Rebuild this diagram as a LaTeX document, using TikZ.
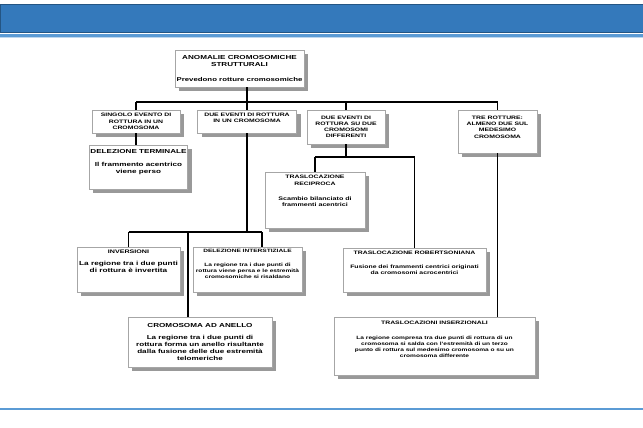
\documentclass[tikz,border=0pt]{standalone}
\usepackage{fontspec}
\setmainfont[FakeStretch=1.4]{Liberation Sans}
\usetikzlibrary{shadows}
\definecolor{fascia}{RGB}{52,121,187}
\definecolor{linea}{RGB}{91,155,213}
\tikzset{
  box/.style={draw=gray!70, fill=white, line width=0.5pt, align=center, inner sep=1pt,
    drop shadow={shadow xshift=4pt, shadow yshift=-4pt, fill=gray!80, opacity=1}},
  conn/.style={line width=1.3pt},
  liftup/.style={text depth=#1},
  fA/.style={font=\fontsize{5.8}{7}\selectfont\bfseries},
  fB/.style={font=\fontsize{4.9}{6.2}\selectfont\bfseries},
  fC/.style={font=\fontsize{4.7}{6}\selectfont\bfseries},
}
\begin{document}
\begin{tikzpicture}[x=1pt,y=-1pt]
    \useasboundingbox (0,0) rectangle (643,428);
    % fascia in alto
    \fill[fascia] (0,4) rectangle (643,32);
    \draw[fascia!70!black, line width=0.6pt] (0,4) rectangle (643,32);
    \fill[linea] (0,34.3) rectangle (643,36.7);
    \fill[linea!40] (0,36.7) rectangle (643,38);
    % linea in basso
    \fill[linea] (0,407.7) rectangle (643,410.3);

    % primo livello
    \node[box, fA, minimum width=129, minimum height=37] (top) at (239.5,68.5)
        {ANOMALIE CROMOSOMICHE\\STRUTTURALI\\[8pt]{\fontsize{5.6}{7}\selectfont Prevedono rotture cromosomiche}};

    % secondo livello
    \node[box, fB, minimum width=88, minimum height=23] (singolo) at (136,121.5)
        {SINGOLO EVENTO DI\\ROTTURA IN UN\\CROMOSOMA};
    \node[box, fB, minimum width=99, minimum height=23, liftup=7] (due1) at (247,121.5)
        {DUE EVENTI DI ROTTURA\\IN UN CROMOSOMA};
    \node[box, fB, minimum width=78, minimum height=34] (due2) at (346,127)
        {DUE EVENTI DI\\ROTTURA SU DUE\\CROMOSOMI\\DIFFERENTI};
    \node[box, fB, minimum width=79, minimum height=43, liftup=9] (tre) at (497.5,131.5)
        {TRE ROTTURE:\\ALMENO DUE SUL\\MEDESIMO\\CROMOSOMA};

    % terzo livello
    \node[box, fA, minimum width=97, minimum height=44, liftup=11] (termin) at (138.5,167)
        {DELEZIONE TERMINALE\\[6pt]Il frammento acentrico\\viene perso};
    \node[box, fB, minimum width=100, minimum height=56, liftup=18] (recip) at (315,200)
        {TRASLOCAZIONE\\RECIPROCA\\[9pt]{\fontsize{5.1}{6.2}\selectfont Scambio bilanciato di}\\{\fontsize{5.1}{6.2}\selectfont frammenti acentrici}};
    \node[box, font=\fontsize{5.9}{7}\selectfont\bfseries, minimum width=103, minimum height=45, liftup=17] (invers) at (128.5,269.5)
        {{\fontsize{5.1}{6}\selectfont INVERSIONI}\\[5pt]La regione tra i due punti\\di rottura è invertita};
    \node[box, fC, minimum width=109, minimum height=45, liftup=11] (interst) at (247.5,269.5)
        {DELEZIONE INTERSTIZIALE\\[8pt]La regione tra i due punti di\\rottura viene persa e le estremità\\cromosomiche si risaldano};
    \node[box, fB, minimum width=143, minimum height=44, liftup=15] (robert) at (414.5,270)
        {TRASLOCAZIONE ROBERTSONIANA\\[8pt]Fusione dei frammenti centrici originati\\da cromosomi acrocentrici};

    % ultimo livello
    \node[box, fA, minimum width=144, minimum height=50] (anello) at (200,342)
        {CROMOSOMA AD ANELLO\\[5pt]La regione tra i due punti di\\rottura forma un anello risultante\\dalla fusione delle due estremità\\telomeriche};
    \node[box, fC, minimum width=201, minimum height=58, liftup=14] (inserz) at (434.5,346)
        {{\fontsize{4.9}{6}\selectfont TRASLOCAZIONI INSERZIONALI}\\[9pt]La regione compresa tra due punti di rottura di un\\cromosoma si salda con l'estremità di un terzo\\punto di rottura sul medesimo cromosoma o su un\\cromosoma differente};

    % punti di diramazione
    \coordinate (busA) at (0,102);
    \coordinate (busB) at (0,232);
    \coordinate (busC) at (0,157);
    \coordinate (rami) at (188,232);
    \coordinate (ramd) at (262,232);

    % collegamenti
    \draw[conn] (top.south -| due1.north) -- (due1.north);
    \draw[conn] (singolo.north |- busA) -- (tre.north |- busA);
    \foreach \n in {singolo,due2,tre}
    \draw[conn] (\n.north |- busA) -- (\n.north);
    \draw[conn] (singolo.south) -- (singolo.south |- termin.north);
    \draw[conn] (due1.south) -- (due1.south |- busB);
    \draw[conn] (invers.north |- busB) -- (ramd);
    \draw[conn] (invers.north |- busB) -- (invers.north);
    \draw[conn] (ramd) -- (ramd |- interst.north);
    \draw[conn] (rami) -- (rami |- anello.north);
    \draw[conn] (due2.south) -- (due2.south |- busC);
    \draw[conn] (recip.north |- busC) -- (robert.north |- busC);
    \draw[conn] (recip.north |- busC) -- (recip.north);
    \draw[conn] (robert.north |- busC) -- (robert.north);
    \draw[conn] (tre.south) -- (tre.south |- inserz.north);
\end{tikzpicture}
\end{document}
